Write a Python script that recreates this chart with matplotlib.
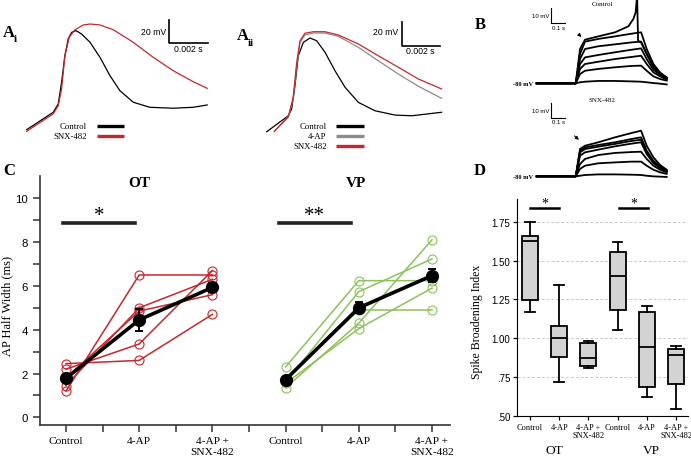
import numpy as np
import matplotlib
matplotlib.use("Agg")
import matplotlib.pyplot as plt

SERIF = "Liberation Serif"
SANS = "Liberation Sans"
RED = "#c8262c"
GREEN = "#8cc25a"
GREY = "#8c8c8c"

# ---- A: single action potentials (time in ms, membrane potential in mV) ----
ai_ctrl_t = [0, 1.36, 1.62, 1.79, 1.96, 2.13, 2.31, 2.53, 2.82, 3.25, 3.76, 4.27, 4.78, 5.47, 6.32, 7.52, 8.54, 9.26]
ai_ctrl_v = [-60, -45.1, -37.9, -19.3, 3.5, 17.9, 23.6, 25, 22.1, 15, 2.1, -13.6, -26.5, -36.5, -40.8, -41.6, -40.8, -38.8]
ai_snx_t = [0, 1.36, 1.62, 1.79, 1.96, 2.18, 2.48, 2.9, 3.25, 3.76, 4.44, 5.47, 6.49, 7.52, 8.54, 9.26]
ai_snx_v = [-61.4, -46.5, -39.4, -25.1, 3.5, 19.3, 25.8, 29.9, 30.7, 29.9, 25.8, 15, 2.1, -9.4, -18.8, -24.5]

aii_ctrl_t = [0, 1.11, 1.28, 1.45, 1.62, 1.88, 2.22, 2.56, 2.99, 3.5, 4.02, 4.7, 5.55, 6.58, 7.44, 8.97]
aii_ctrl_v = [-60, -46.3, -40.5, -20.5, 5.2, 16.7, 20.4, 18.1, 8.2, -7.6, -21.9, -34.8, -42, -45.7, -46.3, -43.3]
aii_t = [0.39, 1.11, 1.36, 1.54, 1.71, 1.96, 2.39, 2.99, 3.67, 4.7, 5.72, 6.75, 7.78, 8.97]
aii_4ap_v = [-59.7, -47.6, -31.9, -3.3, 16.7, 23, 24.7, 24.7, 21.9, 12.4, 0.9, -10.5, -21, -31.3]
aii_snx_v = [-59.7, -46.8, -30.5, -0.4, 18.1, 24.5, 25.8, 25.8, 23, 15.3, 5.2, -4.7, -14.8, -23.3]

# ---- B: current-step responses (time in s, mV) ----
b_t = [0, 0.273, 0.303, 0.338, 0.431, 0.548, 0.664, 0.730, 0.769, 0.816, 0.862, 0.909]
b_spike_t = [0, 0.273, 0.303, 0.338, 0.431, 0.548, 0.641, 0.676, 0.692, 0.702, 0.709, 0.730, 0.769, 0.816, 0.862, 0.909]
b_spike_v = [-80, -80, -57.1, -50.9, -48.7, -46, -42, -37.1, -32.7, -21.6, -51.6, -52.7, -60.4, -68.2, -73.1, -76]
b_ctrl_v = [
    [-80, -80, -60.4, -52.2, -50.4, -48.7, -46.9, -46.0, -57.1, -67.1, -72.7, -76.4],
    [-80, -80, -63.8, -57.1, -55.3, -54.0, -52.7, -52.2, -60.4, -69.3, -73.8, -76.7],
    [-80, -80, -67.1, -62.7, -61.1, -59.3, -57.6, -56.7, -63.8, -70.9, -74.4, -77.1],
    [-80, -80, -70.4, -67.1, -65.6, -63.8, -62.4, -61.6, -67.1, -72.7, -75.3, -77.6],
    [-80, -80, -73.8, -71.6, -70.4, -69.3, -68.4, -68.2, -71.6, -75.3, -77.1, -78.2],
    [-80, -80, -79.3, -78.9, -78.4, -78.4, -78.7, -78.9, -79.3, -79.8, -80.2, -80.7],
]
b_snx_v = [
    [-80, -80, -61.8, -59.6, -57.3, -54.0, -51.1, -49.6, -59.6, -67.3, -72.4, -75.6],
    [-80, -80, -62.9, -60.7, -59.1, -57.3, -55.1, -54.0, -62.9, -69.6, -73.6, -76.2],
    [-80, -80, -64.0, -61.8, -60.2, -58.4, -56.4, -55.6, -64.0, -70.2, -74.2, -76.7],
    [-80, -80, -66.2, -64.0, -62.2, -60.0, -58.2, -57.3, -65.1, -71.1, -74.7, -76.9],
    [-80, -80, -71.8, -68.4, -65.8, -64.4, -63.8, -63.6, -68.4, -72.9, -75.6, -77.3],
    [-80, -80, -75.1, -72.9, -71.3, -70.7, -70.2, -70.2, -72.9, -75.6, -77.3, -78.4],
    [-80, -80, -79.6, -79.1, -78.7, -78.7, -78.9, -79.1, -79.6, -80.0, -80.2, -80.4],
]

# ---- C: AP half width (ms), individual cells and mean +- SEM ----
c_ticklabels = ["Control", "4-AP", "4-AP +\nSNX-482"] * 2
ot_ctrl = [1.2, 1.45, 1.8, 2.2, 2.45]
ot_4ap = [6.5, 5.0, 4.85, 3.35, 2.6]
ot_snx = [6.5, 6.3, 5.6, 6.7, 4.7]
ot_mean = [1.78, 4.45, 5.93]
ot_sem = [0.1, 0.5, 0.2]
vp_ctrl = [2.3, 1.6, 1.75, 1.35, 1.55]
vp_4ap = [6.24, 5.74, 4.9, 4.3, 4.05]
vp_snx = [6.24, 7.23, 4.9, 8.1, 5.9]
vp_mean = [1.72, 5.0, 6.47]
vp_sem = [0.1, 0.25, 0.3]

# ---- D: spike broadening index box plots ----
d_labels = ["Control", "4-AP", "4-AP +\nSNX-482"] * 2
d_whislo = [1.17, 0.72, 0.806, 1.055, 0.62, 0.54]
d_q1 = [1.245, 0.877, 0.82, 1.183, 0.687, 0.703]
d_med = [1.625, 1.0, 0.87, 1.40, 0.94, 0.89]
d_q3 = [1.66, 1.075, 0.968, 1.553, 1.17, 0.93]
d_whishi = [1.75, 1.345, 0.983, 1.62, 1.208, 0.95]

W, H = 691, 460
fig = plt.figure(figsize=(W / 100, H / 100), dpi=100)


def box(left, top, w, h):
    # rectangle given in pixels from the top-left corner
    return [left / W, 1 - (top + h) / H, w / W, h / H]


def letter(px, py, main, sub=None):
    fig.text(px / W, 1 - py / H, main, fontsize=12, fontweight="bold", family=SERIF, va="center")
    if sub:
        fig.text((px + 11) / W, 1 - (py + 7) / H, sub, fontsize=8, fontweight="bold", family=SERIF, va="center")


def key(ax, x_text, x0, x1, ys, labels, colors):
    for y, lab, c in zip(ys, labels, colors):
        ax.text(x_text, y, lab, ha="right", va="center", fontsize=6.3, family=SERIF)
        ax.plot([x0, x1], [y, y], color=c, lw=2.4, solid_capstyle="butt", clip_on=False)


# ---------------- A i ----------------
ax = fig.add_axes(box(22.8, 15, 191, 140))
ax.plot(ai_ctrl_t, ai_ctrl_v, color="black", lw=0.9)
ax.plot(ai_snx_t, ai_snx_v, color=RED, lw=0.9)
ax.set_xlim(-0.2, 9.6)
ax.set_ylim(-80.9, 39.3)
ax.axis("off")
ax.plot([7.31, 7.31, 9.31], [34.2, 14.2, 14.2], color="black", lw=1.2)
ax.text(7.15, 23.9, "20 mV", ha="right", va="center", fontsize=6.3, family=SANS)
ax.text(8.3, 9.5, "0.002 s", ha="center", va="center", fontsize=6.3, family=SANS)
key(ax, 3.09, 3.59, 5.0, [-56.6, -65.2], ["Control", "SNX-482"], ["black", RED])
letter(3, 33, "A", "i")

# ---------------- A ii ----------------
ax = fig.add_axes(box(262.8, 15, 185.25, 140))
ax.plot(aii_ctrl_t, aii_ctrl_v, color="black", lw=0.9)
ax.plot(aii_t, aii_4ap_v, color=GREY, lw=0.9)
ax.plot(aii_t, aii_snx_v, color=RED, lw=0.9)
ax.set_xlim(-0.2, 9.3)
ax.set_ylim(-79.1, 41)
ax.axis("off")
ax.plot([6.92, 6.92, 8.89], [33.9, 13.8, 13.8], color="black", lw=1.2)
ax.text(6.76, 25.6, "20 mV", ha="right", va="center", fontsize=6.3, family=SANS)
ax.text(7.9, 9.3, "0.002 s", ha="center", va="center", fontsize=6.3, family=SANS)
key(ax, 3.08, 3.55, 5.0, [-55.1, -63.7, -72.3], ["Control", "4-AP", "SNX-482"], ["black", GREY, RED])
letter(237, 36, "A", "ii")

# ---------------- B ----------------
for top, traces, title, vbar, arrow in [
    (0, b_ctrl_v, "Control", -40, ((0.28, -46), (0.326, -50.5))),
    (93, b_snx_v, "SNX-482", -41.3, ((0.249, -51.8), (0.31, -56.9))),
]:
    ax = fig.add_axes(box(532.4, top, 137.3, 92))
    if title == "Control":
        ax.plot(b_spike_t, b_spike_v, color="black", lw=1.3)
    for v in traces:
        ax.plot(b_t, v, color="black", lw=1.3)
    ax.set_xlim(-0.03, 0.93)
    ax.set_ylim(-85.1, -23.8)
    ax.axis("off")
    ax.plot([0.098, 0.098, 0.198], [vbar + 10, vbar, vbar], color="black", lw=0.8)
    ax.text(0.088, vbar + 5.5, "10 mV", ha="right", va="center", fontsize=4.3, family=SANS)
    ax.text(0.15, vbar - 0.8, "0.1 s", ha="center", va="top", fontsize=4.3, family=SANS)
    ax.text(0.457, -26.9 if title == "Control" else -28.5, title, ha="center", va="center",
            fontsize=5, family=SERIF, clip_on=False)
    ax.text(-0.028, -80, "-80 mV", ha="right", va="center", fontsize=4.6, fontweight="bold",
            family=SERIF, clip_on=False)
    ax.annotate("", xy=arrow[1], xytext=arrow[0],
                arrowprops=dict(arrowstyle="-|>", color="black", lw=0.7, mutation_scale=5))
letter(475, 25, "B")

# ---------------- C ----------------
ax = fig.add_axes(box(40, 177.4, 410, 248.6))
for xs, ctrl, ap, snx, mean, sem, col in [
    ([0, 1, 2], ot_ctrl, ot_4ap, ot_snx, ot_mean, ot_sem, RED),
    ([3, 4, 5], vp_ctrl, vp_4ap, vp_snx, vp_mean, vp_sem, GREEN),
]:
    for a, b, c in zip(ctrl, ap, snx):
        ax.plot(xs, [a, b, c], color=col, lw=1.1, marker="o", ms=6.5, mfc="none", mec=col, mew=0.8)
    ax.errorbar(xs, mean, yerr=sem, color="black", lw=2.6, marker="o", ms=8.5, capsize=3,
                elinewidth=1.4, capthick=1.4, zorder=5)
ax.set_xlim(-0.355, 5.246)
ax.set_ylim(-0.35, 11.0)
ax.set_xticks(range(6))
ax.set_xticklabels(c_ticklabels, family=SERIF, fontsize=8.2, linespacing=1.25)
ax.set_xticks(np.arange(0.5, 5, 1), minor=True)
ax.set_yticks(range(0, 11, 2))
ax.set_yticklabels([str(v) for v in range(0, 11, 2)], family=SANS, fontsize=8.2)
ax.set_yticks(range(1, 11, 2), minor=True)
for s in ["top", "right"]:
    ax.spines[s].set_visible(False)
for s in ["left", "bottom"]:
    ax.spines[s].set_color("#333333")
    ax.spines[s].set_linewidth(1.2)
ax.tick_params(which="both", direction="out", length=5, width=1.1, color="#333333")
ax.tick_params(axis="x", pad=3)
ax.set_ylabel("AP Half Width (ms)", family=SERIF, fontsize=9)
ax.yaxis.set_label_coords(-0.064, 0.483)
ax.text(1.0, 10.74, "OT", ha="center", va="center", fontsize=11, fontweight="bold", family=SERIF)
ax.text(3.96, 10.74, "VP", ha="center", va="center", fontsize=11, fontweight="bold", family=SERIF)
ax.plot([-0.04, 0.94], [8.85, 8.85], color="#222222", lw=2.6)
ax.plot([2.91, 3.89], [8.85, 8.85], color="#222222", lw=2.6)
ax.text(0.45, 9.2, "*", ha="center", va="center", fontsize=15, family=SERIF)
ax.text(3.39, 9.2, "**", ha="center", va="center", fontsize=15, family=SERIF)
letter(3, 171, "C")

# ---------------- D ----------------
ax = fig.add_axes(box(517, 199.5, 171, 217.2))
stats = [dict(label=l, whislo=a, q1=b, med=c, q3=d, whishi=e, fliers=[])
         for l, a, b, c, d, e in zip(d_labels, d_whislo, d_q1, d_med, d_q3, d_whishi)]
ax.bxp(stats, positions=range(1, 7), widths=0.55, patch_artist=True, showfliers=False,
       boxprops=dict(facecolor="#d3d3d3", edgecolor="black", linewidth=1.3),
       medianprops=dict(color="black", linewidth=1.3),
       whiskerprops=dict(color="black", linewidth=1.3),
       capprops=dict(color="black", linewidth=1.3), capwidths=0.33, zorder=3)
ax.set_xlim(0.555, 6.41)
ax.set_ylim(0.5, 1.9)
ax.set_yticks([0.5, 0.75, 1.0, 1.25, 1.5, 1.75])
ax.set_yticklabels([".50", ".75", "1.00", "1.25", "1.50", "1.75"], family=SANS, fontsize=7)
for lab in ax.get_xticklabels():
    lab.set_family(SERIF)
    lab.set_fontsize(6)
    lab.set_linespacing(1.1)
for y in [0.75, 1.0, 1.25, 1.5, 1.75]:
    ax.axhline(y, color="#c8c8c8", lw=0.7, ls=(0, (3, 2)), zorder=1)
for s in ["top", "right"]:
    ax.spines[s].set_visible(False)
ax.tick_params(which="both", direction="out", length=3, width=0.9, pad=2)
ax.set_ylabel("Spike Broadening Index", family=SERIF, fontsize=8.5)
ax.yaxis.set_label_coords(-0.2, 0.436)
ax.plot([1.0, 1.99], [1.836, 1.836], color="black", lw=1.8)
ax.plot([4.05, 5.04], [1.836, 1.836], color="black", lw=1.8)
ax.text(1.51, 1.868, "*", ha="center", va="center", fontsize=10, family=SERIF)
ax.text(4.57, 1.868, "*", ha="center", va="center", fontsize=10, family=SERIF)
ax.text(1.82, -0.158, "OT", transform=ax.get_xaxis_transform(), ha="center", va="center",
        fontsize=9.6, family=SERIF)
ax.text(5.17, -0.158, "VP", transform=ax.get_xaxis_transform(), ha="center", va="center",
        fontsize=9.6, family=SERIF)
letter(474, 171, "D")

fig.savefig("out.png", dpi=100)
